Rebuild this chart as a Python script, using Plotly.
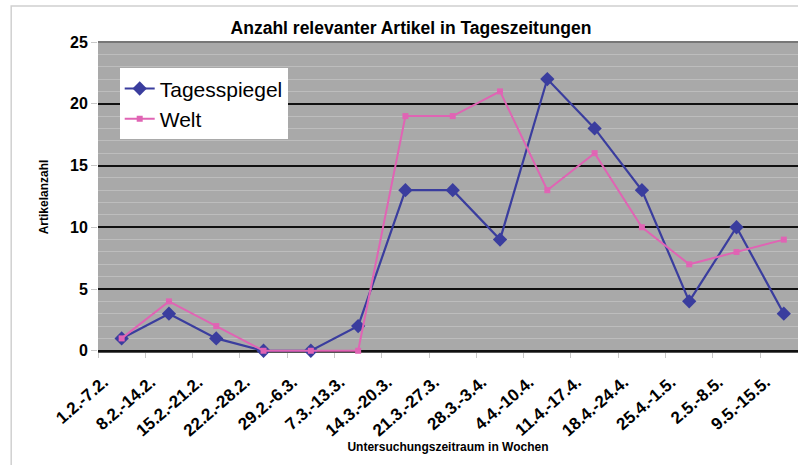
import plotly.graph_objects as go

categories = ["1.2.-7.2.", "8.2.-14.2.", "15.2.-21.2.", "22.2.-28.2.", "29.2.-6.3.",
              "7.3.-13.3.", "14.3.-20.3.", "21.3.-27.3.", "28.3.-3.4.", "4.4.-10.4.",
              "11.4.-17.4.", "18.4.-24.4.", "25.4.-1.5.", "2.5.-8.5.", "9.5.-15.5."]
tagesspiegel = [1, 3, 1, 0, 0, 2, 13, 13, 9, 22, 18, 13, 4, 10, 3]
welt = [1, 4, 2, 0, 0, 0, 19, 19, 21, 13, 16, 10, 7, 8, 9]
y_ticks = [0, 5, 10, 15, 20, 25]

xs = list(range(len(categories)))
BLUE = "#3a3d9e"
PINK = "#e064b4"

fig = go.Figure()
fig.add_trace(go.Scatter(x=xs, y=tagesspiegel, name="Tagesspiegel", mode="lines+markers",
                         line=dict(color=BLUE, width=2.2), cliponaxis=False,
                         marker=dict(symbol="diamond", size=11, color=BLUE)))
fig.add_trace(go.Scatter(x=xs, y=welt, name="Welt", mode="lines+markers",
                         line=dict(color=PINK, width=2), cliponaxis=False,
                         marker=dict(symbol="square", size=6, color=PINK)))

fig.update_layout(
    width=798, height=465,
    margin=dict(l=98, r=0, t=42, b=113),
    paper_bgcolor="white",
    plot_bgcolor="#a9a9a9",
    font=dict(family="Liberation Sans, Arial", color="black"),
    title=dict(text="<b>Anzahl relevanter Artikel in Tageszeitungen</b>",
               x=411 / 798, xanchor="center", y=0.94, yanchor="middle",
               font=dict(size=17.5)),
    showlegend=True,
    legend=dict(x=0.031, y=0.915, xanchor="left", yanchor="top",
                bgcolor="white", font=dict(size=21),
                borderwidth=0, itemwidth=30, tracegroupgap=0),
    xaxis=dict(
        range=[-0.5, 14.3],
        tickmode="array", tickvals=xs, ticktext=["<b>%s</b>" % c for c in categories],
        tickangle=-41, tickfont=dict(size=17), ticklabelstandoff=16, ticklabelshift=-18,
        ticks="", showgrid=False, zeroline=False,
        minor=dict(ticks="outside", tick0=0.5, dtick=1, ticklen=5, tickcolor="#c8c8c8",
                   showgrid=False),
        showline=False,
        title=dict(text="<b>Untersuchungszeitraum in Wochen</b>", font=dict(size=12),
                   standoff=0),
    ),
    yaxis=dict(
        range=[-0.1, 25],
        tickmode="array", tickvals=y_ticks, ticktext=["<b>%d</b>" % v for v in y_ticks],
        tickfont=dict(size=16),
        ticks="outside", ticklen=6, tickcolor="#c8c8c8",
        showgrid=True, gridcolor="#111111", gridwidth=2,
        zeroline=False,
        minor=dict(dtick=1, showgrid=True, gridcolor="#bdbdbd", gridwidth=1, ticks=""),
        showline=False,
        title=dict(text="<b>Artikelanzahl</b>", font=dict(size=12), standoff=18),
    ),
)

# bottom edge of plot (dark) and outer chart frame
fig.add_shape(type="line", xref="paper", yref="paper", x0=0, x1=1, y0=0, y1=0,
              line=dict(color="#555555", width=2), layer="between")
fig.add_shape(type="line", xref="paper", yref="paper", x0=0, x1=1, y0=1, y1=1,
              line=dict(color="#777777", width=2), layer="between")
fig.add_shape(type="rect", xref="paper", yref="paper", x0=-0.124, x1=1.05, y0=-0.5, y1=1.116,
              line=dict(color="#d0d0d0", width=1.5), layer="below")

fig.write_html("out.html", config={"displayModeBar": False},
               post_script="document.body.style.margin='0';document.body.style.overflow='hidden';")
